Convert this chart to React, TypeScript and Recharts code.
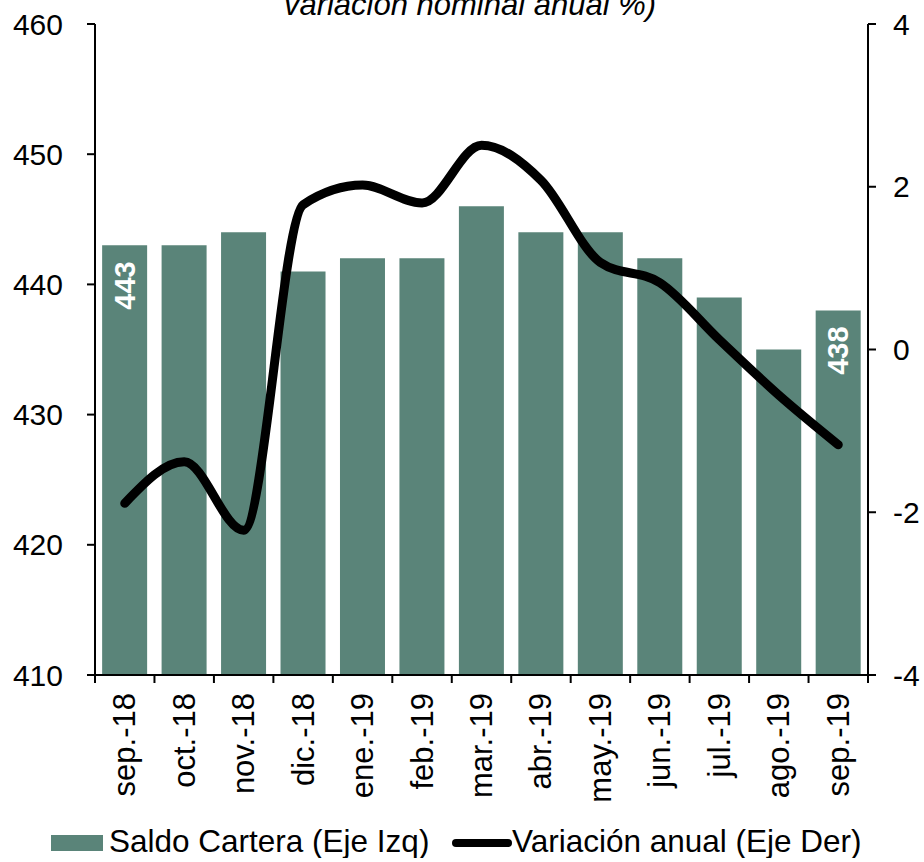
import React from "react";
import { ComposedChart, XAxis, YAxis, Bar, Line, Legend, LabelList } from "recharts";

const months = [
  "sep.-18", "oct.-18", "nov.-18", "dic.-18", "ene.-19", "feb.-19", "mar.-19",
  "abr.-19", "may.-19", "jun.-19", "jul.-19", "ago.-19", "sep.-19",
];
const saldo = [443, 443, 444, 441, 442, 442, 446, 444, 444, 442, 439, 435, 438];
const variacion = [-1.89, -1.38, -2.22, 1.78, 2.02, 1.8, 2.51, 2.08, 1.07, 0.82, 0.12, -0.56, -1.17];
const leftTicks = [410, 420, 430, 440, 450, 460];
const rightTicks = [-4, -2, 0, 2, 4];

const data = months.map((m, i) => ({ name: m, saldo: saldo[i], variacion: variacion[i] }));

const FONT = "'Liberation Sans', Arial, sans-serif";
const BAR = "#5a8479";
const TICK_SIZE = 8;
const TICK_MARGIN = 10;

// category labels plus tick marks drawn at the band edges (like Excel)
const XTick = (props: any) => {
  const { x, y, payload, index } = props;
  const half = payload && payload.offset ? payload.offset : 29.73;
  const axisY = y - TICK_SIZE - TICK_MARGIN;
  const last = index === months.length - 1;
  return (
    <g>
      <line x1={x - half} y1={axisY} x2={x - half} y2={axisY + TICK_SIZE} stroke="#000" strokeWidth={2} />
      {last && (
        <line x1={x + half} y1={axisY} x2={x + half} y2={axisY + TICK_SIZE} stroke="#000" strokeWidth={2} />
      )}
      <text
        x={x}
        y={y}
        transform={`rotate(-90, ${x}, ${y})`}
        textAnchor="end"
        dominantBaseline="central"
        fontSize={31}
        fontFamily={FONT}
        fill="#000"
      >
        {payload.value}
      </text>
    </g>
  );
};

const BarLabel = (props: any) => {
  const { x, y, width, index, value } = props;
  if (index !== 0 && index !== saldo.length - 1) return null;
  const cx = x + width / 2;
  const ty = y + 16;
  return (
    <text
      x={cx}
      y={ty}
      transform={`rotate(-90, ${cx}, ${ty})`}
      textAnchor="end"
      dominantBaseline="central"
      fill="#fff"
      fontWeight="bold"
      fontSize={29}
      fontFamily={FONT}
    >
      {value}
    </text>
  );
};

const LegendContent = () => (
  <svg width={924} height={40} style={{ display: "block" }}>
    <rect x={51} y={17} width={52} height={16} fill={BAR} />
    <text x={109} y={34} fontSize={31.5} fontFamily={FONT} fill="#000">
      Saldo Cartera (Eje Izq)
    </text>
    <line x1={456} y1={25} x2={508} y2={25} stroke="#000" strokeWidth={8} strokeLinecap="round" />
    <text x={512} y={34} fontSize={31.5} fontFamily={FONT} fill="#000">
      Variación anual (Eje Der)
    </text>
  </svg>
);

export default function App() {
  return (
    <div style={{ position: "absolute", left: 0, top: 0, width: 924, height: 862, background: "#fff" }}>
      <ComposedChart
        width={924}
        height={862}
        data={data}
        margin={{ top: 24, right: 0, bottom: 4, left: 0 }}
        barCategoryGap="12%"
      >
        <XAxis
          dataKey="name"
          height={143}
          interval={0}
          tick={<XTick />}
          tickSize={TICK_SIZE}
          tickMargin={TICK_MARGIN}
          tickLine={false}
          stroke="#000"
          strokeWidth={2}
        />
        <YAxis
          yAxisId="left"
          orientation="left"
          width={95}
          domain={[410, 460]}
          ticks={leftTicks}
          interval={0}
          tickSize={8}
          tickMargin={24}
          stroke="#000"
          strokeWidth={2}
          tick={{ fontSize: 30, fill: "#000", fontFamily: FONT }}
        />
        <YAxis
          yAxisId="right"
          orientation="right"
          width={56}
          domain={[-4, 4]}
          ticks={rightTicks}
          interval={0}
          tickSize={8}
          tickMargin={17}
          stroke="#000"
          strokeWidth={2}
          tick={{ fontSize: 30, fill: "#000", fontFamily: FONT }}
        />
        <Bar yAxisId="left" dataKey="saldo" fill={BAR} isAnimationActive={false}>
          <LabelList dataKey="saldo" content={<BarLabel />} />
        </Bar>
        <Line
          yAxisId="right"
          dataKey="variacion"
          type="monotone"
          stroke="#000"
          strokeWidth={9}
          strokeLinecap="round"
          strokeLinejoin="round"
          dot={false}
          activeDot={false}
          isAnimationActive={false}
        />
        <Legend
          verticalAlign="bottom"
          content={<LegendContent />}
          wrapperStyle={{ left: 0, width: 924, height: 40 }}
        />
      </ComposedChart>
      <svg
        width={924}
        height={30}
        style={{ position: "absolute", left: 0, top: 0, pointerEvents: "none" }}
      >
        <text
          x={470}
          y={15}
          textAnchor="middle"
          fontSize={31}
          fontStyle="italic"
          fontFamily={FONT}
          fill="#000"
        >
          variación nominal anual %)
        </text>
      </svg>
    </div>
  );
}
